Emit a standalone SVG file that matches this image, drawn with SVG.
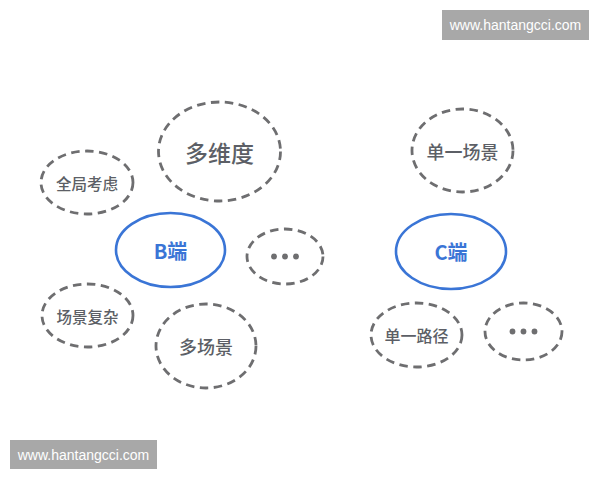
<svg xmlns="http://www.w3.org/2000/svg" width="600" height="480" viewBox="0 0 600 480">
<style>
.d{fill:none;stroke:#6e6e70;stroke-width:2.8;stroke-dasharray:8.5 5.5}
.m{fill:#fff;stroke:#3a75d6;stroke-width:2.6}
.t{font-family:"Noto Sans CJK SC","Noto Sans",sans-serif;fill:#5c5f66;font-weight:500;text-anchor:middle;dominant-baseline:central}
.b{font-family:"Noto Sans CJK SC","Noto Sans",sans-serif;fill:#3a75d6;font-weight:700;text-anchor:middle;dominant-baseline:central;font-size:20px}
.w{font-family:"Liberation Sans",Arial,sans-serif;fill:#fff;font-size:14px;text-anchor:middle;dominant-baseline:central}
.dot{fill:#6e6e70}
</style>
<rect width="600" height="480" fill="#fff"/>
<g id="watermark-top"><rect x="442" y="10" width="147" height="30" fill="#a8a8a8"/><text class="w" x="515.5" y="25">www.hantangcci.com</text></g>
<g id="watermark-bottom"><rect x="10" y="440" width="147" height="29" fill="#a8a8a8"/><text class="w" x="83.5" y="454.5">www.hantangcci.com</text></g>
<g id="connectors"></g>
<g id="n-duoweidu"><ellipse class="d" cx="219.5" cy="151.5" rx="61" ry="49.5"/><text class="t" x="219.5" y="151.5" font-size="23">多维度</text></g>
<g id="n-quanju"><ellipse class="d" cx="87" cy="182.5" rx="46" ry="31.5"/><text class="t" x="87" y="182.5" font-size="15.5">全局考虑</text></g>
<g id="n-B"><ellipse class="m" cx="170.5" cy="250" rx="54.5" ry="37"/><text class="b" x="170.5" y="250">B端</text></g>
<g id="n-more-b"><ellipse class="d" cx="285" cy="256.5" rx="38" ry="27.5"/><circle class="dot" cx="274" cy="256.5" r="2.9"/><circle class="dot" cx="285" cy="256.5" r="2.9"/><circle class="dot" cx="296" cy="256.5" r="2.9"/></g>
<g id="n-changjing"><ellipse class="d" cx="87.5" cy="315.5" rx="45.5" ry="31.5"/><text class="t" x="87.5" y="315.5" font-size="15.5">场景复杂</text></g>
<g id="n-duochangjing"><ellipse class="d" cx="206" cy="346" rx="50" ry="42"/><text class="t" x="206" y="346" font-size="18">多场景</text></g>
<g id="n-danyichangjing"><ellipse class="d" cx="462.5" cy="150.5" rx="50.5" ry="41.5"/><text class="t" x="462.5" y="150.5" font-size="18">单一场景</text></g>
<g id="n-C"><ellipse class="m" cx="451" cy="251.5" rx="55" ry="37.5"/><text class="b" x="451" y="251.5">C端</text></g>
<g id="n-danyilujing"><ellipse class="d" cx="416.5" cy="335" rx="45.5" ry="32"/><text class="t" x="416.5" y="335" font-size="16">单一路径</text></g>
<g id="n-more-c"><ellipse class="d" cx="523.5" cy="331.5" rx="38.5" ry="28.5"/><circle class="dot" cx="512.5" cy="331.5" r="2.9"/><circle class="dot" cx="523.5" cy="331.5" r="2.9"/><circle class="dot" cx="534.5" cy="331.5" r="2.9"/></g>
</svg>
